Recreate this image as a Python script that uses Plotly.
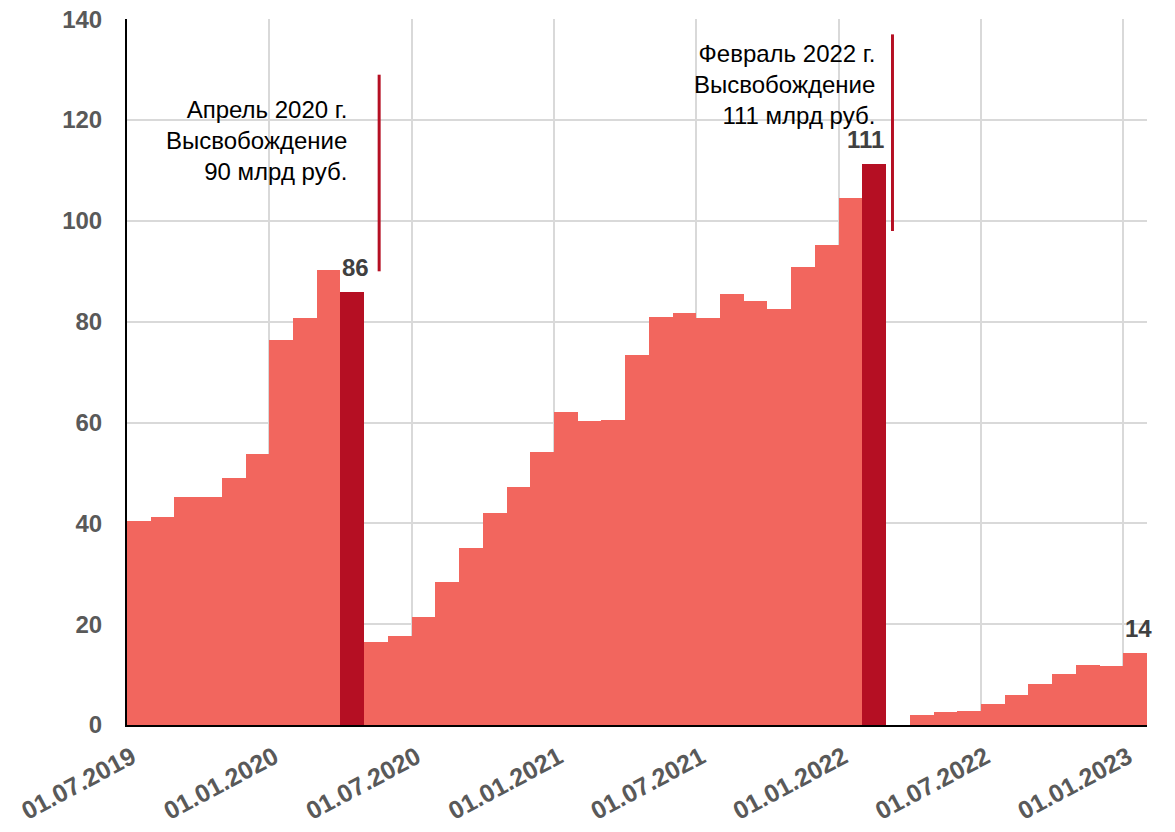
import plotly.graph_objects as go

# monthly values, Jul 2019 .. Jan 2023 (bn rub)
months = [
    "07.2019", "08.2019", "09.2019", "10.2019", "11.2019", "12.2019",
    "01.2020", "02.2020", "03.2020", "04.2020", "05.2020", "06.2020",
    "07.2020", "08.2020", "09.2020", "10.2020", "11.2020", "12.2020",
    "01.2021", "02.2021", "03.2021", "04.2021", "05.2021", "06.2021",
    "07.2021", "08.2021", "09.2021", "10.2021", "11.2021", "12.2021",
    "01.2022", "02.2022", "03.2022", "04.2022", "05.2022", "06.2022",
    "07.2022", "08.2022", "09.2022", "10.2022", "11.2022", "12.2022",
    "01.2023",
]
values = [
    40.4, 41.3, 45.2, 45.3, 49.0, 53.8,
    76.4, 80.8, 90.2, 85.8, 16.5, 17.7,
    21.4, 28.4, 35.2, 42.0, 47.3, 54.1,
    62.1, 60.3, 60.6, 73.3, 81.0, 81.7,
    80.8, 85.4, 84.1, 82.6, 90.8, 95.3,
    104.5, 111.2, None, 1.9, 2.5, 2.8,
    4.1, 6.05, 8.2, 10.2, 11.9, 11.7,
    14.2,
]
release_months = ["04.2020", "02.2022"]
labelled = {"04.2020": "86", "02.2022": "111", "01.2023": "14"}
tick_months = ["07.2019", "01.2020", "07.2020", "01.2021", "07.2021", "01.2022", "07.2022", "01.2023"]

note_texts = {
    "04.2020": "Апрель 2020 г.<br>Высвобождение<br>90 млрд руб.",
    "02.2022": "Февраль 2022 г.<br>Высвобождение<br>111 млрд руб.",
}
# placement: (marker line x offset, line y0, line y1, text right x offset, text y)
note_place = {
    "04.2020": (1.63, 90, 129, 0.37, 116),
    "02.2022": (1.27, 98, 137, 0.62, 127),
}

LIGHT = "#F2665E"
DARK = "#B50F23"
FONT = "Arial, Liberation Sans, sans-serif"

idx = list(range(len(months)))
colors = [DARK if m in release_months else LIGHT for m in months]

fig = go.Figure()
fig.add_trace(go.Bar(
    x=[i + 0.5 for i in idx], y=values, width=1,
    marker=dict(color=colors, line=dict(width=0)),
    hoverinfo="skip",
))

# value labels
label_anchor = {"04.2020": "left", "02.2022": "right", "01.2023": "left"}
for m, txt in labelled.items():
    i = months.index(m)
    ax = label_anchor[m]
    fig.add_annotation(
        x=i if ax == "left" else i + 1, y=values[i], text=txt, showarrow=False,
        xanchor=ax, yanchor="bottom", yshift=9,
        font=dict(family=FONT, size=24, color="#404040", weight="bold"),
    )

# release notes with red vertical markers
for m, txt in note_texts.items():
    i = months.index(m)
    lx, y0, y1, tx, ty = note_place[m]
    fig.add_shape(type="line", x0=i + lx, x1=i + lx, y0=y0, y1=y1,
                  line=dict(color=DARK, width=3), layer="above")
    fig.add_annotation(
        x=i + tx, y=ty, text=txt, showarrow=False,
        xanchor="right", yanchor="middle", align="right",
        font=dict(family=FONT, size=24, color="#000000"),
    )

fig.update_layout(
    width=1175, height=832,
    margin=dict(l=127, r=28, t=19, b=107),
    plot_bgcolor="white", paper_bgcolor="white",
    showlegend=False, bargap=0,
    font=dict(family=FONT),
)
fig.update_xaxes(
    range=[0, len(months)], automargin=False,
    tickvals=[months.index(m) for m in tick_months],
    ticktext=["01." + m for m in tick_months],
    tickangle=-28,
    tickfont=dict(family=FONT, size=25, color="#595959", weight="bold"),
    showgrid=True, gridcolor="#D9D9D9", gridwidth=2,
    showline=True, linecolor="black", linewidth=2,
    ticks="", zeroline=False, ticklabeloverflow="allow",
    ticklabelshift=5, ticklabelstandoff=6,
)
fig.update_yaxes(
    range=[0, 140.05], tickvals=[0, 20, 40, 60, 80, 100, 120, 140], automargin=False,
    tickfont=dict(family=FONT, size=24, color="#595959", weight="bold"),
    showgrid=True, gridcolor="#D9D9D9", gridwidth=2,
    showline=True, linecolor="black", linewidth=2,
    ticks="", zeroline=False, ticklabelstandoff=18, ticklabeloverflow="allow",
)

fig.write_html("out.html", config={"displayModeBar": False},
               post_script="document.body.style.margin = '0';")
